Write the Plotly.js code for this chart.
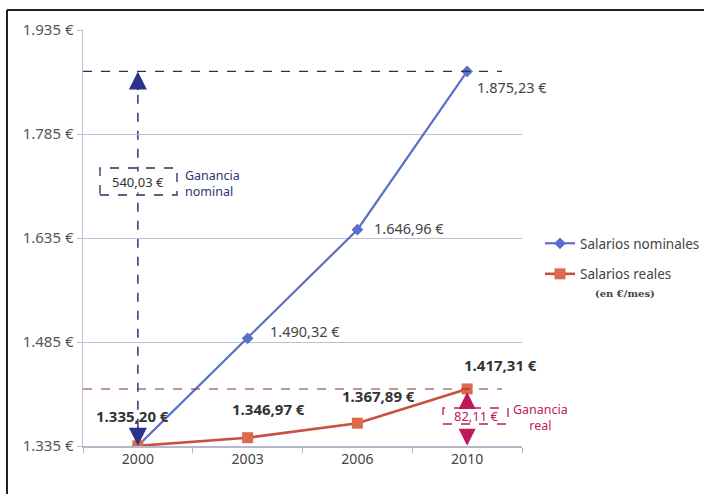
<!DOCTYPE html>
<html><head><meta charset="utf-8">
<script src="https://cdn.plot.ly/plotly-3.0.1.min.js"></script>
<style>html,body{margin:0;padding:0;background:#fff}#c{width:704px;height:494px}</style>
</head><body><div id="c"></div>
<script>
const years = ['2000','2003','2006','2010'];
const nominal = [1335.20, 1490.32, 1646.96, 1875.23];
const real = [1335.20, 1346.97, 1367.89, 1417.31];
const nominalLabels = ['1.335,20 €','1.490,32 €','1.646,96 €','1.875,23 €'];
const realLabels = ['1.335,20 €','1.346,97 €','1.367,89 €','1.417,31 €'];
const yTicks = [1335, 1485, 1635, 1785, 1935];
const yTickText = ['1.335 €','1.485 €','1.635 €','1.785 €','1.935 €'];
const gainNominalText = '540,03 €';
const gainRealText = '82,11 €';

const navy = '#2b3388';
const crimson = '#c2185b';
const blue = '#5b6fc9';
const red = '#c8503f';
const orange = '#dd6a4a';
const font = '"Noto Sans", sans-serif';

const traces = [
  {x: years, y: nominal, type:'scatter', mode:'lines+markers', name:'Salarios nominales',
   legendgroup:'a', line:{color:blue, width:2.2},
   marker:{symbol:'diamond', size:9, color:blue}},
  {x: years, y: real, type:'scatter', mode:'lines+markers', name:'Salarios reales',
   legendgroup:'b', line:{color:red, width:2.6},
   marker:{symbol:'square', size:11, color:orange}}
];

const ann = [];
const nomShift = [[0,0],[20,7],[15,2],[8,-16]];
for (let i=1;i<4;i++){
  ann.push({x: i, y: nominal[i], xref:'x', yref:'y', text: nominalLabels[i], showarrow:false,
    xanchor:'left', xshift: nomShift[i][0], yshift: nomShift[i][1],
    font:{family:font, size:14.5, color:'#444'}});
}
const realShift = [[-5,30],[21,29],[21,27],[33,24]];
for (let i=0;i<4;i++){
  ann.push({x: i, y: real[i], xref:'x', yref:'y', text: '<b>'+realLabels[i]+'</b>', showarrow:false,
    xanchor:'center', xshift: realShift[i][0], yshift: realShift[i][1],
    font:{family:font, size:15, color:'#333'}});
}
// arrowheads
ann.push({x: 0, y: nominal[3], xref:'x', yref:'y', ax:0, ay:20, text:'', showarrow:true,
  arrowhead:2, arrowsize:1.8, arrowwidth:2, arrowcolor:navy});
ann.push({x: 0, y: real[0], xref:'x', yref:'y', ax:0, ay:-20, text:'', showarrow:true,
  arrowhead:2, arrowsize:1.8, arrowwidth:2, arrowcolor:navy});
ann.push({x: 3, y: real[3], xref:'x', yref:'y', ax:0, ay:16, text:'', showarrow:true,
  arrowhead:2, arrowsize:1.7, arrowwidth:2, arrowcolor:crimson, standoff:3});
ann.push({x: 3, y: real[0], xref:'x', yref:'y', ax:0, ay:-16, text:'', showarrow:true,
  arrowhead:2, arrowsize:1.7, arrowwidth:2, arrowcolor:crimson});
// gain boxes text
ann.push({x: 0, y: 1716, xref:'x', yref:'y', text: gainNominalText, showarrow:false,
  bgcolor:'#fff', font:{family:font, size:13, color:'#333'}});
ann.push({xref:'paper', yref:'paper', x:(183-83)/439, y:(446-183)/416, xanchor:'left', yanchor:'middle',
  text:'Ganancia<br>nominal', showarrow:false, align:'left',
  font:{family:font, size:12.5, color:'#2c3570'}});
ann.push({xref:'paper', yref:'paper', x:(476-83)/439, y:(446-416)/416, xanchor:'center', yanchor:'middle',
  text: gainRealText, showarrow:false,
  font:{family:font, size:13, color:crimson}});
ann.push({xref:'paper', yref:'paper', x:(540-83)/439, y:(446-417)/416, xanchor:'center', yanchor:'middle',
  text:'Ganancia<br>real', showarrow:false, align:'center',
  font:{family:font, size:12.5, color:crimson}});
ann.push({xref:'paper', yref:'paper', x:(625-83)/439, y:(446-293)/416, xanchor:'center', yanchor:'middle',
  text:'<b>(en €/mes)</b>', showarrow:false,
  font:{family:'"DejaVu Serif", serif', size:10, color:'#444'}});

const shapes = [
  {type:'line', xref:'paper', yref:'paper', x0:(7-83)/439, x1:(704-83)/439, y0:(446-10)/416, y1:(446-10)/416,
   line:{color:'#222', width:2}},
  {type:'line', xref:'paper', yref:'paper', x0:(7-83)/439, x1:(7-83)/439, y0:(446-10)/416, y1:(446-494)/416,
   line:{color:'#222', width:2}},
  {type:'line', xref:'paper', yref:'y', x0:0, x1:(502-83)/439, y0:nominal[3], y1:nominal[3],
   line:{color:'#2a2f5a', width:1.3, dash:'dash'}},
  {type:'line', xref:'paper', yref:'y', x0:0, x1:(502-83)/439, y0:real[3], y1:real[3],
   line:{color:'#8a2a3a', width:1.1, dash:'dash'}},
  {type:'line', xref:'x', yref:'y', x0:0, x1:0, y0:real[0], y1:nominal[3],
   line:{color:navy, width:1.5, dash:'dash'}, layer:'below'},
  {type:'rect', xref:'paper', yref:'paper', x0:(100-83)/439, x1:(177-83)/439, y0:(446-195)/416, y1:(446-168)/416,
   line:{color:'#2a2f5a', width:1.3, dash:'dash'}},
  {type:'rect', xref:'paper', yref:'paper', x0:(443-83)/439, x1:(508-83)/439, y0:(446-424)/416, y1:(446-408)/416,
   line:{color:crimson, width:1.3, dash:'dash'}}
];

const layout = {
  width:704, height:494,
  margin:{l:83, r:182, t:30, b:48, autoexpand:false},
  paper_bgcolor:'#fff', plot_bgcolor:'#fff',
  font:{family:font, size:13, color:'#555'},
  showlegend:true,
  legend:{x:(540-83)/439, y:(446-228)/416, xanchor:'left', yanchor:'top',
    traceorder:'grouped', tracegroupgap:10, itemwidth:30,
    font:{family:font, size:13.5, color:'#444'}, bgcolor:'rgba(0,0,0,0)'},
  xaxis:{type:'category', range:[-0.5,3.5], showgrid:false, zeroline:false,
    showline:true, linecolor:'#b5b8c8', linewidth:1.5, ticks:'outside', tickson:'boundaries',
    ticklen:5, tickcolor:'#b5b8c8', tickfont:{family:font, size:14, color:'#444'}},
  yaxis:{range:[1335,1935], tickvals:yTicks, ticktext:yTickText, showgrid:true, gridcolor:'#bcc0d8',
    gridwidth:1, zeroline:false, showline:true, linecolor:'#bcc0d8', linewidth:1.5,
    ticks:'outside', ticklen:5, tickcolor:'#bcc0d8', tickfont:{family:font, size:15, color:'#555'}},
  annotations: ann,
  shapes: shapes
};
Plotly.newPlot('c', traces, layout, {displayModeBar:false, staticPlot:true});
</script></body></html>
